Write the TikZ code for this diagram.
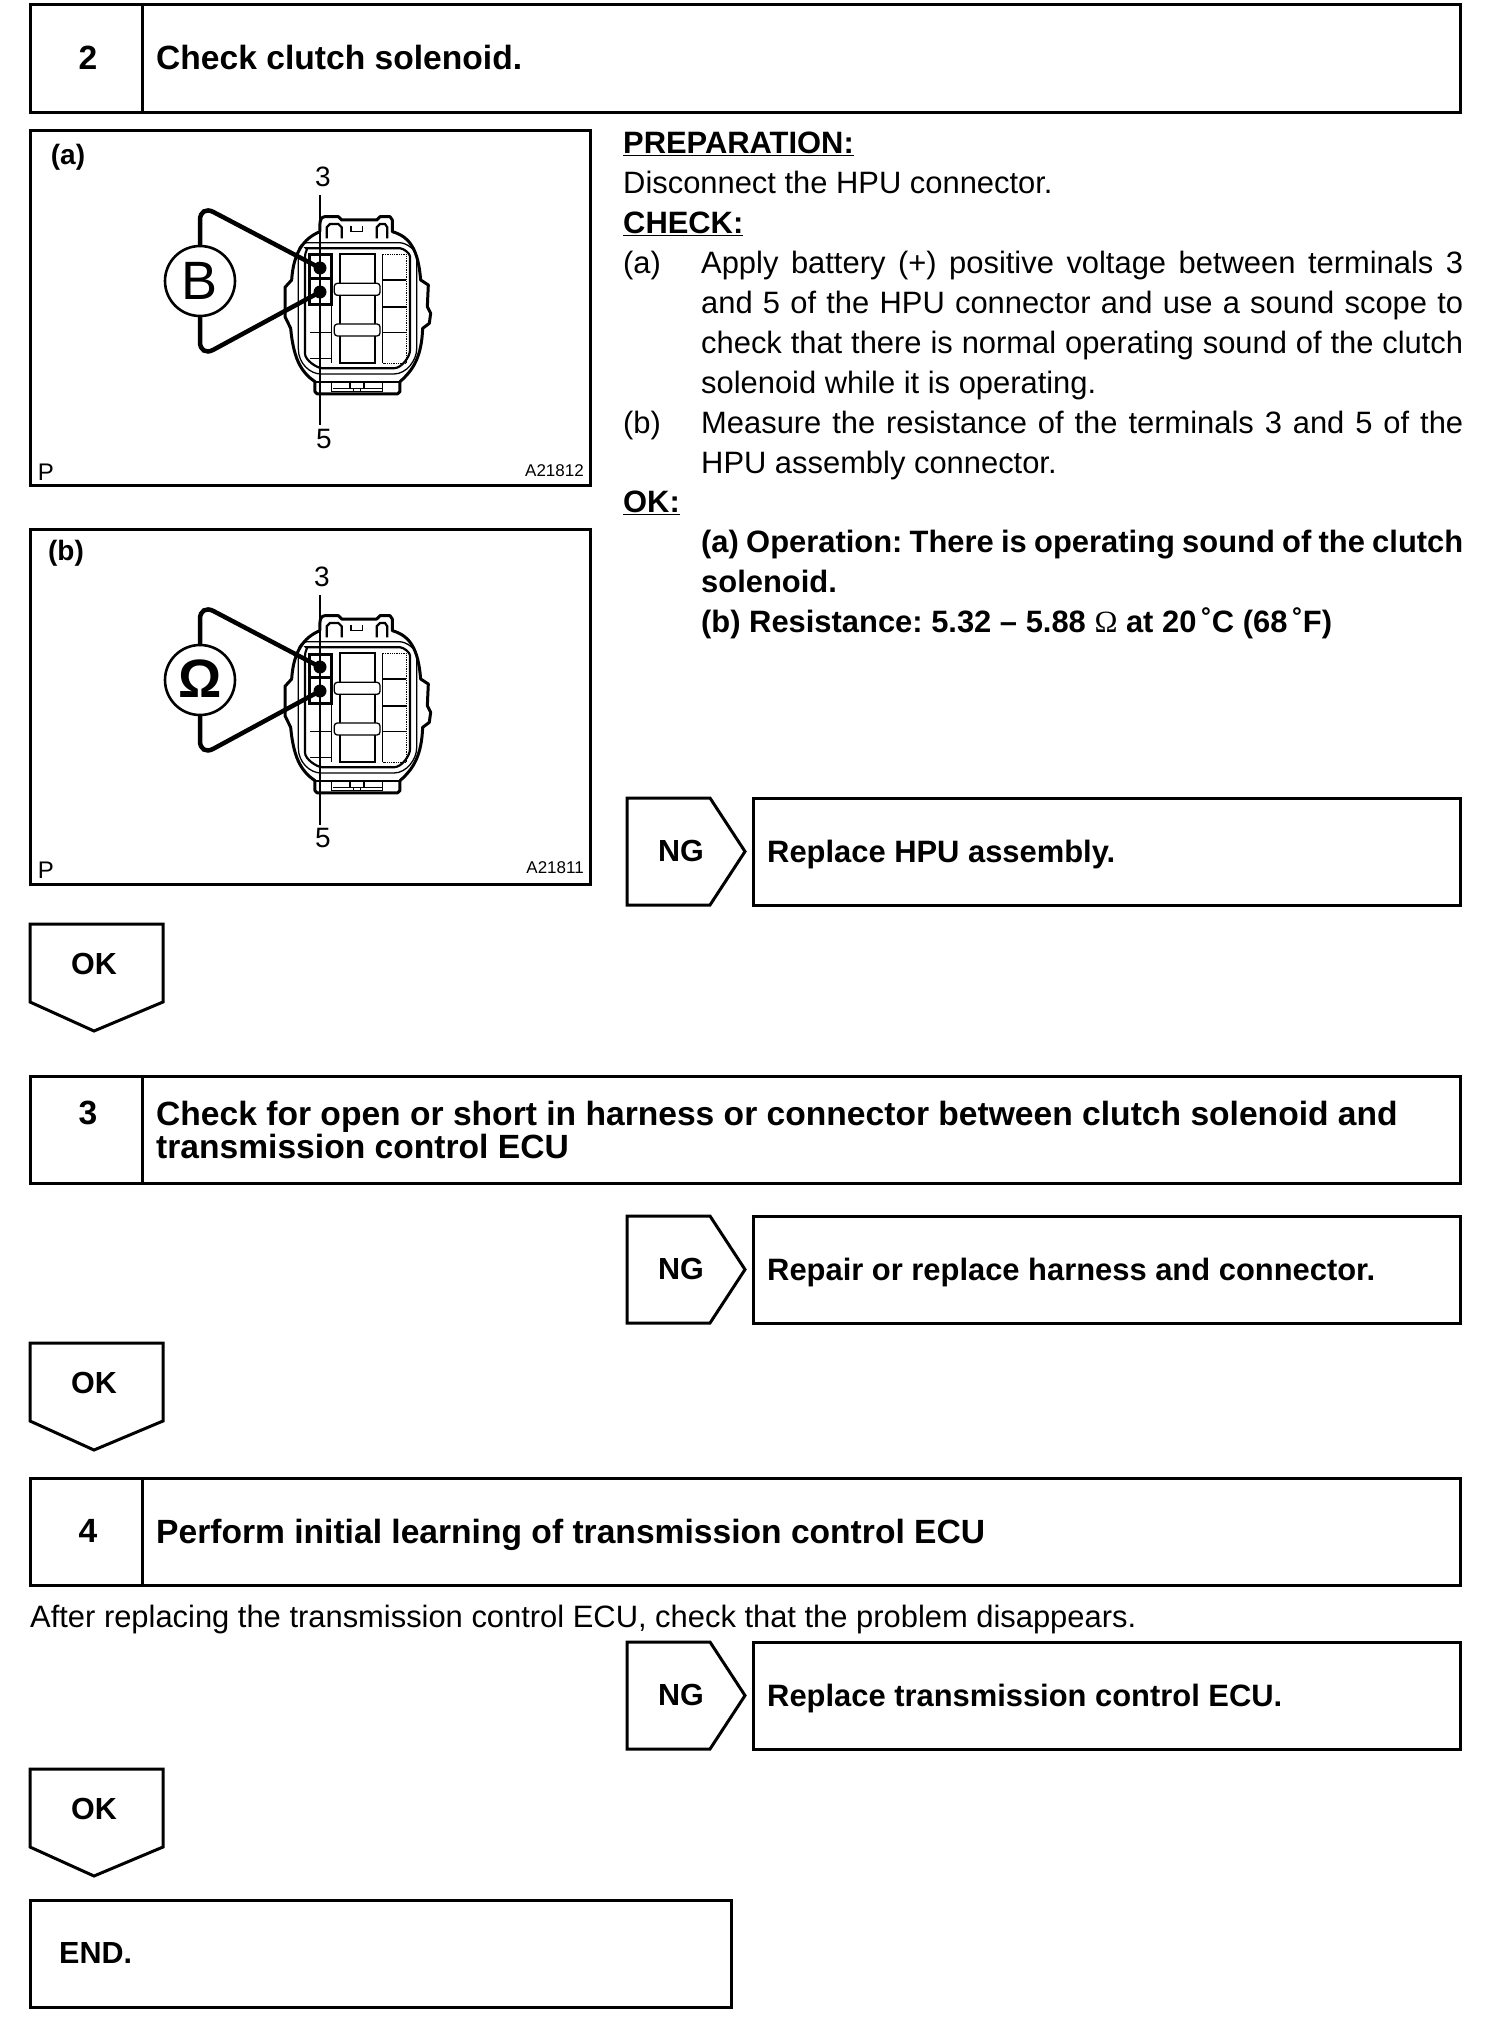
\documentclass[tikz,border=0pt]{standalone}
\usepackage{fontspec}
\setmainfont{Liberation Sans}
\newfontfamily\serifomega{Liberation Serif}
\newcommand{\bodyfs}{\fontsize{30.9}{40}\selectfont\frenchspacing}
\newcommand{\headfs}{\fontsize{33.6}{33}\selectfont\bfseries\frenchspacing}
\newcommand{\smallfs}{\fontsize{17}{20}\selectfont}
\newcommand{\numfs}{\fontsize{28}{30}\selectfont}
\newcommand{\hpuconnector}[2]{%
\begin{scope}[shift={(#1,#2)},x=0.3333pt,y=-0.3333pt]
 \draw[shell] (150,95) -- (150,70) to[out=90,in=180] (165,50) -- (205,50) -- (215,60) -- (320,60) -- (330,50) -- (360,50) -- (367,60) -- (367,95)
   .. controls (420,110) and (445,150) .. (452,240) -- (475,255) -- (472,320) -- (482,340) -- (478,370) -- (458,385)
   .. controls (455,470) and (430,510) .. (390,545) -- (390,575) -- (382,582) -- (142,582) -- (135,575) -- (135,545)
   .. controls (90,515) and (70,470) .. (62,385) -- (45,350) -- (45,262) -- (65,240)
   .. controls (70,160) and (100,115) .. (150,95);
 \draw[fine,rounded corners=9pt] (85,128) -- (85,420) .. controls (85,490) and (120,522) .. (180,522) -- (345,522) .. controls (410,522) and (440,480) .. (440,420) -- (440,200) .. controls (440,150) and (410,128) .. (360,128) -- cycle;
 \draw[mid,rounded corners=7pt] (105,170) -- (105,440) .. controls (105,480) and (140,505) .. (180,505) -- (350,505) .. controls (395,505) and (420,470) .. (420,430) -- (420,190) .. controls (420,160) and (400,145) .. (370,145) -- (130,145) .. controls (115,145) and (105,155) .. (105,170);
 \draw[mid] (170,115) -- (170,82) -- (180,72) -- (205,72) -- (215,82) -- (215,115);
 \draw[mid] (320,115) -- (320,82) -- (330,72) -- (345,72) -- (352,82) -- (352,115);
 \draw[fine] (243,78) -- (243,95) -- (278,95) -- (278,78);
 \draw[mid] (210,163) rectangle (315,490);
 \draw[fine,fill=white,rounded corners=3pt] (193,250) rectangle (330,286);
 \draw[fine,fill=white,rounded corners=3pt] (193,372) rectangle (330,408);
 \draw[fine] (338,163) -- (338,490);
 \draw[fine,densely dotted] (338,163) -- (410,163) -- (410,490) -- (338,490);
 \draw[fine] (338,240) -- (408,240);
 \draw[mid] (338,320) -- (408,320);
 \draw[fine] (338,398) -- (408,398);
 \draw[fine] (120,398) -- (185,398);
 \draw[fine] (120,475) -- (185,475);
 \draw[fine] (185,315) -- (185,490);
 \draw[mid] (135,545) -- (390,545);
 \draw[fine] (185,550) -- (185,575) -- (338,575) -- (338,550);
 \draw[fine] (190,565) -- (335,565);
 \draw[fine] (240,548) -- (240,565) (282,548) -- (282,565);
 \draw[fine] (250,565) -- (250,574) -- (272,574) -- (272,565);
 \draw[box3] (120,165) rectangle (185,315);
 \draw[box3] (120,237) -- (185,237);
\end{scope}}
\tikzset{
 bx/.style={draw=black,line width=3pt,line join=miter},
 panel/.style={draw=black,line width=3pt},
 shell/.style={draw=black,line width=3pt,fill=white,line join=round},
 fine/.style={draw=black,line width=1.3pt},
 mid/.style={draw=black,line width=2.2pt},
 box3/.style={draw=black,line width=3pt},
 wire/.style={draw=black,line width=4.5pt,rounded corners=15pt,line cap=round},
 leader/.style={draw=black,line width=1.5pt},
 txt/.style={anchor=base west,inner sep=0pt,font=\bodyfs},
 btxt/.style={anchor=base west,inner sep=0pt,font=\bodyfs\bfseries},
 htxt/.style={anchor=west,inner sep=0pt,font=\headfs,align=left},
 hbase/.style={anchor=base west,inner sep=0pt,font=\headfs},
 num/.style={anchor=center,inner sep=0pt,font=\headfs},
 tag/.style={anchor=center,inner sep=0pt,font=\fontsize{30.5}{33}\selectfont\bfseries},
 dot/.style={circle,fill=black,minimum size=13pt,inner sep=0pt},
 meter/.style={circle,draw=black,line width=2.6pt,fill=white,minimum size=70pt,inner sep=0pt},
 pnum/.style={anchor=center,inner sep=0pt,font=\numfs},
 ptag/.style={anchor=center,inner sep=0pt,font=\fontsize{28}{30}\selectfont\bfseries},
 pcode/.style={anchor=east,inner sep=0pt,font=\smallfs},
 pp/.style={anchor=center,inner sep=0pt,font=\fontsize{24}{26}\selectfont},
}
\newcommand{\headframe}[5]{% name, top, bottom, number, number y
 \draw[bx] (30,#2) rectangle (1460,#3);
 \draw[bx] (142,#2) -- (142,#3);
 \node[num] (#1num) at (88,#5) {#4};
}
\newcommand{\ngbox}[4]{% name, top, bottom, text
 \draw[bx] (627,#2) -- (710,#2) -- (745,{(#2+#3)/2}) -- (710,#3) -- (627,#3) -- cycle;
 \node[tag] (#1ng) at (681,{(#2+#3)/2-1}) {NG};
 \draw[bx] (753,#2) rectangle (1460,#3);
 \node[btxt] (#1txt) at (767,{(#2+#3)/2+10.5}) {#4};
}
\newcommand{\okbox}[3]{% name, top, bottom
 \draw[bx] (30,#2) -- (163,#2) -- (163,#3-29) -- (94,#3) -- (30,#3-29) -- cycle;
 \node[tag] (#1ok) at (94,#2+40) {OK};
}
\newcommand{\jline}[3]{\node[#1] at (701,#2) {\hbox to 762pt{#3}};}
\begin{document}
\begin{tikzpicture}[x=1pt,y=-1pt]
\useasboundingbox (0,0) rectangle (1504,2018);
\fill[white] (0,0) rectangle (1504,2018);

\headframe{hA}{5}{112}{2}{58}
\node[hbase] (hAtxt) at (156,70) {Check clutch solenoid.};

% panel (a)
\draw[panel] (30,130) rectangle (590,485);
\node[ptag] (pa) at (68,157) {(a)};
\hpuconnector{270}{200}
\node[dot] (d3a) at (320,268) {};
\node[dot] (d5a) at (320,292) {};
\node[meter] (ma) at (200,281) {};
\node[inner sep=0pt,font=\fontsize{54}{54}\selectfont] (la) at (200,281) {B};
\draw[wire] (ma.north) -- (200,205) -- (d3a.center);
\draw[wire] (ma.south) -- (200,357) -- (d5a.center);
\node[pnum] (t3a) at (323,177) {3};
\node[pnum] (t5a) at (324,439) {5};
\coordinate (l3a) at (320,195);
\coordinate (l5a) at (320,425);
\draw[leader] (l3a) -- (l5a);
\node[pp] (pPa) at (46,472) {P};
\node[pcode] (ca) at (584,471) {A21812};

% panel (b)
\draw[panel] (30,529) rectangle (590,884);
\node[ptag] (pb) at (66,553) {(b)};
\hpuconnector{270}{599}
\node[dot] (d3b) at (320,667) {};
\node[dot] (d5b) at (320,691) {};
\node[meter] (mb) at (200,680) {};
\node[inner sep=0pt,font=\fontsize{54}{54}\selectfont\bfseries] (lb) at (200,679) {Ω};
\draw[wire] (mb.north) -- (200,604) -- (d3b.center);
\draw[wire] (mb.south) -- (200,756) -- (d5b.center);
\node[pnum] (t3b) at (322,577) {3};
\node[pnum] (t5b) at (323,838) {5};
\coordinate (l3b) at (320,595);
\coordinate (l5b) at (320,825);
\draw[leader] (l3b) -- (l5b);
\node[pp] (pPb) at (46,870) {P};
\node[pcode] (cb) at (584,868) {A21811};

% right-hand text
\node[btxt] (prep) at (623,153) {\underline{PREPARATION:}};
\node[txt] (dis) at (623,193) {Disconnect the HPU connector.};
\node[btxt] (chk) at (623,233) {\underline{CHECK:}};
\node[txt] (ia) at (623,273) {(a)};
\jline{txt}{273}{Apply battery (+) positive voltage between terminals 3}
\jline{txt}{313}{and 5 of the HPU connector and use a sound scope to}
\jline{txt}{353}{check that there is normal operating sound of the clutch}
\node[txt] (l4) at (701,393) {solenoid while it is operating.};
\node[txt] (ib) at (623,433) {(b)};
\jline{txt}{433}{Measure the resistance of the terminals 3 and 5 of the}
\node[txt] (l6) at (701,473) {HPU assembly connector.};
\node[btxt] (okh) at (623,512) {\underline{OK:}};
\jline{btxt}{552}{(a) Operation: There is operating sound of the clutch}
\node[btxt] (o2) at (701,592) {solenoid.};
\node[btxt] (o3) at (701,632) {(b) Resistance: 5.32 – 5.88 {\serifomega\mdseries Ω} at 20\,˚C (68\,˚F)};

\ngbox{nA}{798}{905}{Replace HPU assembly.}
\okbox{oA}{924}{1031}

\headframe{hB}{1076}{1183}{3}{1113}
\node[htxt] (hBtxt) at (156,1129.5) {Check for open or short in harness or connector between clutch solenoid and\\transmission control ECU};
\ngbox{nB}{1216}{1323}{Repair or replace harness and connector.}
\okbox{oB}{1343}{1450}

\headframe{hC}{1478}{1585}{4}{1531}
\node[hbase] (hCtxt) at (156,1543.5) {Perform initial learning of transmission control ECU};
\node[txt] (after) at (30,1627) {After replacing the transmission control ECU, check that the problem disappears.};
\ngbox{nC}{1642}{1749}{Replace transmission control ECU.}
\okbox{oC}{1769}{1876}

\draw[bx] (30,1900) rectangle (731,2007);
\node[anchor=west,inner sep=0pt,font=\fontsize{30.5}{33}\selectfont\bfseries] (endn) at (59,1953) {END.};
\end{tikzpicture}
\end{document}
